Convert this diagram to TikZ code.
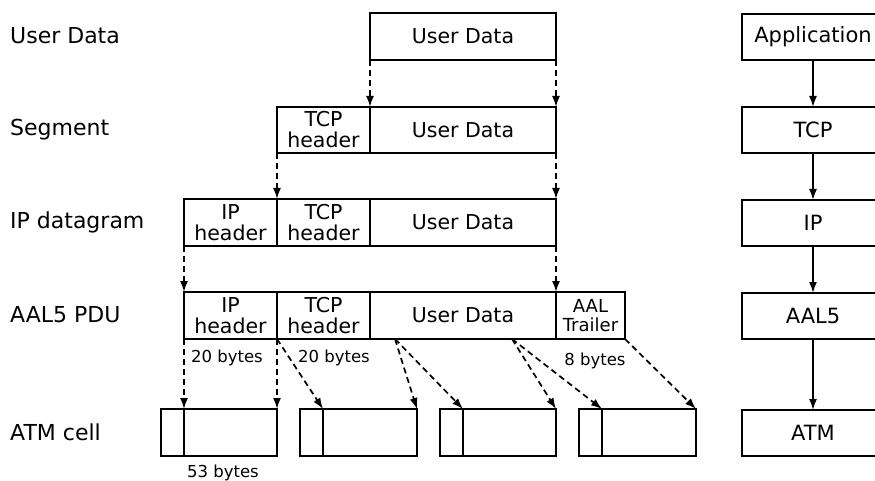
\documentclass[tikz,border=0pt]{standalone}
\usepackage{fontspec}
\setmainfont{DejaVu Sans}
\usetikzlibrary{arrows.meta,calc}
\begin{document}
\begin{tikzpicture}[x=1pt,y=-1pt,
  pkt/.style={draw, line width=1.7pt, inner sep=0pt, outer sep=0pt,
    anchor=north west, align=center, font=\fontsize{20.5}{21}\selectfont},
  lbl/.style={anchor=west, inner sep=0pt, font=\fontsize{22}{24}\selectfont},
  note/.style={inner sep=0pt, font=\fontsize{16.5}{18}\selectfont},
  flow/.style={line width=1.7pt, dash pattern=on 6pt off 4pt,
    -{Latex[length=11pt,width=8pt]}},
  down/.style={line width=1.7pt, -{Latex[length=11pt,width=8pt]}},
  layer/.style={draw, line width=1.7pt, inner sep=0pt, outer sep=0pt,
    anchor=north west, minimum width=142pt, minimum height=46pt,
    font=\fontsize{21}{24}\selectfont}]
\useasboundingbox (0,0) rectangle (875,481);
\clip (0,0) rectangle (875,481);

% row labels
\node[lbl] (lUser) at (10,36)  {User Data};
\node[lbl] (lSeg)  at (10,130) {Segment};
\node[lbl] (lIP)   at (10,222) {IP datagram};
\node[lbl] (lAAL)  at (10,315) {AAL5 PDU};
\node[lbl] (lATM)  at (10,432) {ATM cell};

% user data
\node[pkt, minimum width=186pt, minimum height=47pt] (ud) at (370,13) {User Data};

% TCP segment
\node[pkt, minimum width=93pt,  minimum height=46pt] (segTCP) at (277,107) {TCP\\header};
\node[pkt, minimum width=186pt, minimum height=46pt] (segUD)  at (370,107) {User Data};

% IP datagram
\node[pkt, minimum width=93pt,  minimum height=47pt] (ipIP)  at (184,199) {IP\\header};
\node[pkt, minimum width=93pt,  minimum height=47pt] (ipTCP) at (277,199) {TCP\\header};
\node[pkt, minimum width=186pt, minimum height=47pt] (ipUD)  at (370,199) {User Data};

% AAL5 PDU
\node[pkt, minimum width=93pt,  minimum height=47pt] (aalIP)  at (184,292) {IP\\header};
\node[pkt, minimum width=93pt,  minimum height=47pt] (aalTCP) at (277,292) {TCP\\header};
\node[pkt, minimum width=186pt, minimum height=47pt] (aalUD)  at (370,292) {User Data};
\node[pkt, minimum width=69pt,  minimum height=47pt, font=\fontsize{18}{19}\selectfont]
  (aalTR) at (556,292) {AAL\\Trailer};

% ATM cells (header + payload)
\node[pkt, minimum width=23pt, minimum height=47pt] (c1a) at (161,409) {};
\node[pkt, minimum width=93pt, minimum height=47pt] (c1b) at (184,409) {};
\node[pkt, minimum width=23pt, minimum height=47pt] (c2a) at (300,409) {};
\node[pkt, minimum width=94pt, minimum height=47pt] (c2b) at (323,409) {};
\node[pkt, minimum width=23pt, minimum height=47pt] (c3a) at (440,409) {};
\node[pkt, minimum width=93pt, minimum height=47pt] (c3b) at (463,409) {};
\node[pkt, minimum width=23pt, minimum height=47pt] (c4a) at (579,409) {};
\node[pkt, minimum width=94pt, minimum height=47pt] (c4b) at (602,409) {};

% sizes
\node[note] (n20a) at (227,358) {20 bytes};
\node[note] (n20b) at (334,358) {20 bytes};
\node[note] (n8)   at (595,361) {8 bytes};
\node[note] (n53)  at (223,473) {53 bytes};

% encapsulation
\draw[flow] (ud.south west) -- (segUD.north west);
\draw[flow] (ud.south east) -- (segUD.north east);
\draw[flow] (segTCP.south west) -- (ipTCP.north west);
\draw[flow] (segUD.south east) -- (ipUD.north east);
\draw[flow] (ipIP.south west) -- (aalIP.north west);
\draw[flow] (ipUD.south east) -- (aalUD.north east);

% segmentation into cells
\coordinate (s1) at ($(aalUD.south west)+(25,0)$);
\coordinate (s2) at ($(aalUD.south west)+(142,0)$);
\draw[flow] (aalIP.south west) -- (c1b.north west);
\draw[flow] (aalIP.south east) -- (c1b.north east);
\draw[flow] (aalTCP.south west) -- (c2b.north west);
\draw[flow] (s1) -- (c2b.north east);
\draw[flow] (s1) -- (c3b.north west);
\draw[flow] (s2) -- (c3b.north east);
\draw[flow] (s2) -- (c4b.north west);
\draw[flow] (aalTR.south east) -- (c4b.north east);

% protocol stack
\node[layer] (app)  at (742,14)  {Application};
\node[layer] (tcp)  at (742,107) {TCP};
\node[layer] (ip)   at (742,200) {IP};
\node[layer] (aal5) at (742,293) {AAL5};
\node[layer] (atm)  at (742,410) {ATM};
\draw[down] (app.south)  -- (tcp.north);
\draw[down] (tcp.south)  -- (ip.north);
\draw[down] (ip.south)   -- (aal5.north);
\draw[down] (aal5.south) -- (atm.north);
\end{tikzpicture}
\end{document}
